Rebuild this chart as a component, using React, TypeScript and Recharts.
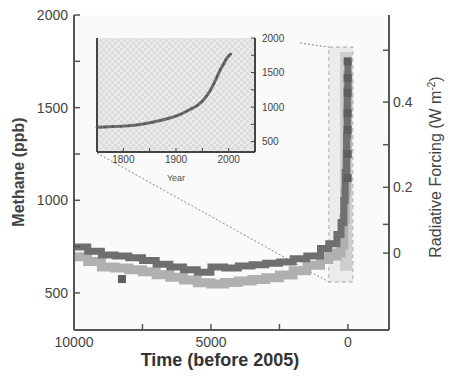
import React from 'react'
import {
  ComposedChart,
  LineChart,
  Line,
  Scatter,
  XAxis,
  YAxis,
  CartesianGrid,
  ReferenceArea,
  ReferenceLine,
} from 'recharts'

const FONT = '"Liberation Sans", Arial, Helvetica, sans-serif'

// ice core record, years before 2005
const bandTimes = [10000, 9500, 9000, 8500, 8000, 7500, 7000, 6500, 6000, 5500, 5000, 4500, 4000, 3500, 3000, 2500, 2000, 1500, 1000, 700, 400, 250, 150, 100, 50, 20, 0]
const upperCh4 = [748, 725, 705, 700, 690, 675, 655, 640, 625, 612, 640, 635, 645, 652, 660, 667, 685, 700, 740, 765, 815, 880, 1000, 1150, 1350, 1600, 1760]
const lowerCh4 = [695, 670, 640, 635, 625, 615, 598, 585, 570, 555, 548, 556, 565, 572, 582, 597, 620, 650, 680, 700, 715, 760, 900, 1050, 1250, 1500, 1700]

// single samples drawn as squares
const markerTimes = [8250, 10, 10, 10, 10, 10, 10, 10]
const markerCh4 = [575, 1750, 1660, 1580, 1470, 1380, 1250, 1120]

// axis ticks
const timeTicks = [10000, 7500, 5000, 2500, 0]
const timeLabels = ['10000', '', '5000', '', '0']
const ch4Ticks = [500, 750, 1000, 1250, 1500, 1750, 2000]
const ch4Labels = ['500', '', '1000', '', '1500', '', '2000']
// radiative forcing ticks, placed at the equivalent methane level
const forcingAtCh4 = [715, 870, 1070, 1300, 1530, 1810]
const forcingLabels = ['0', '', '0.2', '', '0.4', '']

// zoom box and connector lines (time, ppb)
const zoomBox = { t1: 693, t2: -182, v1: 559, v2: 1827 }
const recentBand = { t1: 290, t2: -150, v1: 620, v2: 1800 }
const connectorLow = [{ x: 9161, y: 1255 }, { x: 693, y: 559 }]
const connectorHigh = [{ x: 1752, y: 1849 }, { x: 693, y: 1827 }]

// inset: last 250 years
const insetYears = [1750, 1765, 1780, 1795, 1810, 1825, 1840, 1855, 1870, 1885, 1900, 1910, 1920, 1930, 1940, 1950, 1958, 1965, 1972, 1978, 1984, 1990, 1995, 2000, 2004]
const insetCh4 = [708, 712, 718, 722, 730, 742, 760, 782, 805, 835, 870, 900, 940, 980, 1020, 1085, 1160, 1240, 1340, 1440, 1540, 1620, 1690, 1740, 1770]
const insetYearTicks = [1800, 1850, 1900, 1950, 2000]
const insetCh4Ticks = [500, 750, 1000, 1250, 1500, 1750, 2000]

const upperData = bandTimes.map((t, i) => ({ t, ch4: upperCh4[i] }))
const lowerData = bandTimes.map((t, i) => ({ t, ch4: lowerCh4[i] }))
const markerData = markerTimes.map((t, i) => ({ t, ch4: markerCh4[i] }))
const insetData = insetYears.map((year, i) => ({ year, ch4: insetCh4[i] }))

const labelFrom = (ticks: number[], labels: string[]) => (v: number) => {
  const i = ticks.indexOf(v)
  return i < 0 ? '' : labels[i]
}

const axisLine = { stroke: '#555', strokeWidth: 2 }
const tickLine = { stroke: '#555', strokeWidth: 1.5 }
const tickFont = { fontSize: 14, fill: '#444', fontFamily: FONT }
const smallFont = { fontSize: 10, fill: '#444', fontFamily: FONT }

function MainChart() {
  return (
    <ComposedChart width={449} height={379} margin={{ top: 15, right: 0, bottom: 0, left: 0 }}>
      <CartesianGrid fill="#fafafa" horizontal={false} vertical={false} xAxisId="bottom" yAxisId="left" />
      <XAxis
        xAxisId="bottom"
        dataKey="t"
        type="number"
        domain={[-1500, 10000]}
        reversed
        ticks={timeTicks}
        interval={0}
        tickFormatter={labelFrom(timeTicks, timeLabels)}
        height={49}
        tickSize={-6}
        tickMargin={13}
        axisLine={axisLine}
        tickLine={tickLine}
        tick={tickFont}
      />
      <XAxis
        xAxisId="top"
        orientation="top"
        dataKey="t"
        type="number"
        domain={[-1500, 10000]}
        reversed
        ticks={timeTicks}
        interval={0}
        tickFormatter={() => ''}
        height={0}
        tickSize={-6}
        axisLine={axisLine}
        tickLine={tickLine}
      />
      <YAxis
        yAxisId="left"
        dataKey="ch4"
        type="number"
        domain={[300, 2000]}
        ticks={ch4Ticks}
        interval={0}
        tickFormatter={labelFrom(ch4Ticks, ch4Labels)}
        width={74}
        tickSize={-6}
        tickMargin={12}
        axisLine={axisLine}
        tickLine={tickLine}
        tick={tickFont}
      />
      <YAxis
        yAxisId="right"
        orientation="right"
        dataKey="ch4"
        type="number"
        domain={[300, 2000]}
        ticks={forcingAtCh4}
        interval={0}
        tickFormatter={labelFrom(forcingAtCh4, forcingLabels)}
        width={60}
        tickSize={-6}
        tickMargin={10}
        axisLine={axisLine}
        tickLine={tickLine}
        tick={tickFont}
      />
      <ReferenceArea
        xAxisId="bottom"
        yAxisId="left"
        x1={zoomBox.t1}
        x2={zoomBox.t2}
        y1={zoomBox.v1}
        y2={zoomBox.v2}
        fill="#ececec"
        fillOpacity={1}
        stroke="#a8a8a8"
        strokeDasharray="4 3"
      />
      <ReferenceArea
        xAxisId="bottom"
        yAxisId="left"
        x1={recentBand.t1}
        x2={recentBand.t2}
        y1={recentBand.v1}
        y2={recentBand.v2}
        fill="#cfcfcf"
        fillOpacity={1}
      />
      <ReferenceLine xAxisId="bottom" yAxisId="left" segment={connectorLow} stroke="#8a8a8a" strokeDasharray="2 2" />
      <ReferenceLine xAxisId="bottom" yAxisId="left" segment={connectorHigh} stroke="#8a8a8a" strokeDasharray="2 2" />
      <Line
        xAxisId="bottom"
        yAxisId="left"
        data={lowerData}
        dataKey="ch4"
        type="stepAfter"
        stroke="#b0b0b0"
        strokeWidth={9}
        dot={false}
        isAnimationActive={false}
      />
      <Line
        xAxisId="bottom"
        yAxisId="right"
        data={upperData}
        dataKey="ch4"
        type="stepAfter"
        stroke="#6f6f6f"
        strokeWidth={7}
        dot={false}
        isAnimationActive={false}
      />
      <Scatter
        xAxisId="bottom"
        yAxisId="left"
        data={markerData}
        dataKey="ch4"
        shape="square"
        fill="#5f5f5f"
        isAnimationActive={false}
      />
    </ComposedChart>
  )
}

function InsetChart() {
  return (
    <LineChart width={210} height={152} data={insetData} margin={{ top: 8, right: 0, bottom: 0, left: 0 }}>
      <CartesianGrid fill="url(#checker)" horizontal={false} vertical={false} xAxisId="bottom" yAxisId="right" />
      <XAxis
        xAxisId="bottom"
        dataKey="year"
        type="number"
        domain={[1750, 2050]}
        ticks={insetYearTicks}
        interval={0}
        tickFormatter={(v: number) => (v % 100 === 0 ? String(v) : '')}
        height={30}
        tickSize={-4}
        tickMargin={8}
        axisLine={{ stroke: '#444', strokeWidth: 2 }}
        tickLine={{ stroke: '#444' }}
        tick={smallFont}
        label={{ value: 'Year', position: 'insideBottom', offset: 1, fontSize: 9, fill: '#555', fontFamily: FONT }}
      />
      <XAxis
        xAxisId="top"
        orientation="top"
        dataKey="year"
        type="number"
        domain={[1750, 2050]}
        ticks={insetYearTicks}
        interval={0}
        tickFormatter={() => ''}
        height={0}
        tickSize={-4}
        axisLine={{ stroke: '#444', strokeWidth: 2 }}
        tickLine={{ stroke: '#444' }}
      />
      <YAxis
        yAxisId="left"
        type="number"
        domain={[350, 2000]}
        ticks={insetCh4Ticks}
        interval={0}
        tickFormatter={() => ''}
        width={7}
        tickSize={-4}
        axisLine={{ stroke: '#444', strokeWidth: 2 }}
        tickLine={{ stroke: '#444' }}
      />
      <YAxis
        yAxisId="right"
        orientation="right"
        type="number"
        domain={[350, 2000]}
        ticks={insetCh4Ticks}
        interval={0}
        tickFormatter={(v: number) => (v % 500 === 0 ? String(v) : '')}
        width={45}
        tickSize={-4}
        tickMargin={11}
        axisLine={{ stroke: '#444', strokeWidth: 2 }}
        tickLine={{ stroke: '#444' }}
        tick={smallFont}
      />
      <Line
        xAxisId="bottom"
        yAxisId="right"
        dataKey="ch4"
        type="linear"
        stroke="#6a6a6a"
        strokeWidth={3}
        dot={{ r: 1.2, fill: '#555', stroke: 'none' }}
        isAnimationActive={false}
      />
    </LineChart>
  )
}

export default function App() {
  return (
    <div style={{ position: 'absolute', left: 0, top: 0, width: 449, height: 379, background: '#fff', fontFamily: FONT }}>
      <MainChart />
      <div style={{ position: 'absolute', left: 90, top: 30 }}>
        <InsetChart />
      </div>
      <svg width={449} height={379} style={{ position: 'absolute', left: 0, top: 0, pointerEvents: 'none' }}>
        <defs>
          <pattern id="checker" width={6} height={6} patternUnits="userSpaceOnUse">
            <rect width={6} height={6} fill="#eaeaea" />
            <rect width={3} height={3} fill="#dcdcdc" />
            <rect x={3} y={3} width={3} height={3} fill="#dcdcdc" />
          </pattern>
        </defs>
        <text x={220} y={366} textAnchor="middle" fontFamily={FONT} fontWeight="bold" fontSize={18} fill="#333">
          Time (before 2005)
        </text>
        <text
          x={24}
          y={172}
          transform="rotate(-90 24 172)"
          textAnchor="middle"
          fontFamily={FONT}
          fontWeight="bold"
          fontSize={16}
          fill="#444"
        >
          Methane (ppb)
        </text>
        <text
          x={441}
          y={167}
          transform="rotate(-90 441 167)"
          textAnchor="middle"
          fontFamily={FONT}
          fontSize={16}
          fill="#444"
        >
          Radiative Forcing (W m
          <tspan dy={-6} fontSize={10}>-2</tspan>
          <tspan dy={6}>)</tspan>
        </text>
      </svg>
    </div>
  )
}
